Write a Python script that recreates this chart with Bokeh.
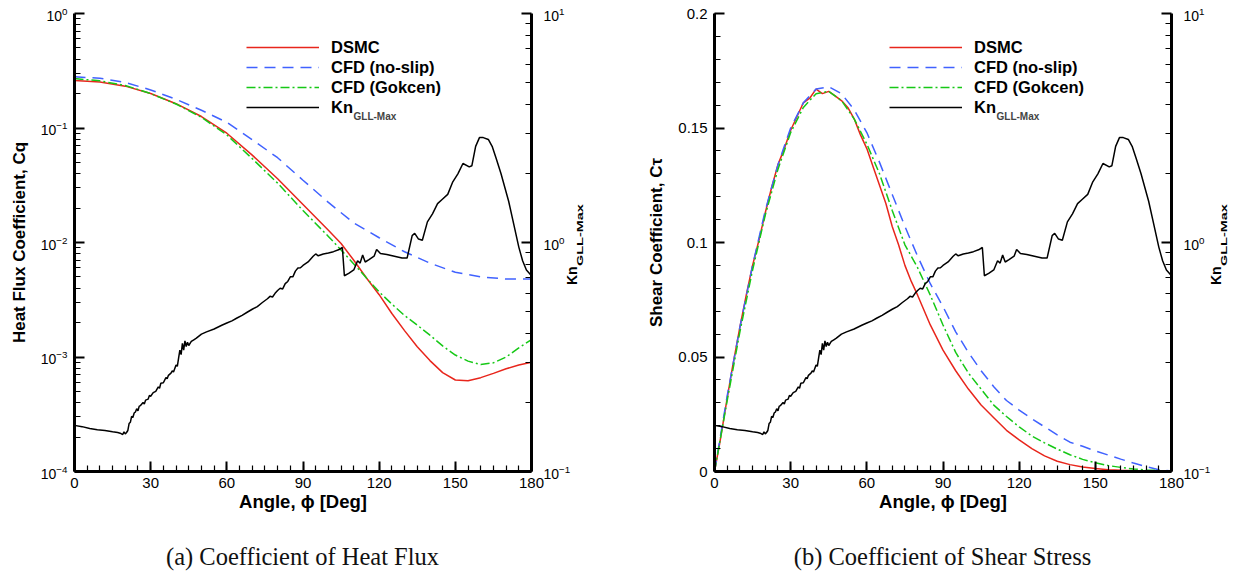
from bokeh.plotting import figure
from bokeh.layouts import row, column
from bokeh.models import (Range1d, LogScale, LogAxis, FixedTicker, NumeralTickFormatter,
                          Legend, LegendItem, Label, Div)
from bokeh.embed import file_html
from bokeh.resources import INLINE

# ---------------- data ----------------
# Heat flux coefficient (left panel)
hf_dsmc_angle = [0, 10, 20, 30, 40, 50, 60, 70, 80, 90, 100, 105, 110, 115, 120, 125, 130,
                 135, 140, 145, 150, 155, 160, 165, 170, 175, 180]
hf_dsmc = [0.26, 0.252, 0.232, 0.2, 0.163, 0.126, 0.09, 0.058, 0.036, 0.0215, 0.0128, 0.0098,
           0.007, 0.0049, 0.0035, 0.0024, 0.0017, 0.00123, 0.00093, 0.00073, 0.00063, 0.00062,
           0.00066, 0.00072, 0.00079, 0.00085, 0.0009]
hf_gokcen_angle = hf_dsmc_angle
hf_gokcen = [0.27, 0.258, 0.235, 0.2, 0.162, 0.124, 0.087, 0.054, 0.033, 0.019, 0.0113, 0.0086,
             0.0065, 0.0049, 0.0037, 0.0029, 0.0023, 0.0019, 0.00155, 0.00125, 0.00104, 0.00092,
             0.00086, 0.00089, 0.001, 0.0012, 0.00142]
hf_noslip_angle = [0, 10, 20, 30, 40, 50, 60, 70, 80, 90, 100, 110, 120, 130, 140, 150, 160, 170, 180]
hf_noslip = [0.28, 0.272, 0.25, 0.215, 0.178, 0.143, 0.112, 0.079, 0.055, 0.035, 0.0224, 0.0148,
             0.011, 0.0083, 0.0066, 0.0055, 0.005, 0.0048, 0.0048]

# Shear coefficient (right panel)
sh_dsmc_angle = [0, 2, 5, 7, 10, 12.5, 15, 17.5, 20, 22.5, 25, 27.5, 30, 32.5, 35, 37.5, 40, 42.5,
                 45, 47.5, 50, 52.5, 55, 57.5, 60, 62.5, 65, 67.5, 70, 72.5, 75, 77.5, 80, 85, 90,
                 95, 100, 105, 110, 115, 120, 125, 130, 135, 140, 145, 150, 155, 160, 165, 170, 180]
sh_dsmc = [0, 0.012, 0.032, 0.045, 0.063, 0.077, 0.090, 0.101, 0.113, 0.124, 0.134, 0.141, 0.149,
           0.155, 0.161, 0.163, 0.167, 0.165, 0.166, 0.164, 0.162, 0.159, 0.154, 0.147, 0.141,
           0.133, 0.125, 0.117, 0.107, 0.099, 0.090, 0.083, 0.077, 0.064, 0.053, 0.044, 0.036,
           0.029, 0.0235, 0.018, 0.0138, 0.010, 0.0068, 0.0045, 0.003, 0.002, 0.0013, 0.0008,
           0.0005, 0.0003, 0.0002, 0.0001]
sh_cfd_angle = [0, 5, 10, 15, 20, 25, 30, 35, 40, 45, 50, 55, 60, 65, 70, 75, 80, 85, 90, 95, 100,
                105, 110, 115, 120, 125, 130, 135, 140, 145, 150, 155, 160, 165, 170, 175, 180]
sh_noslip = [0, 0.033, 0.063, 0.090, 0.114, 0.134, 0.150, 0.161, 0.167, 0.168, 0.165, 0.158, 0.148,
             0.135, 0.121, 0.107, 0.094, 0.082, 0.072, 0.061, 0.052, 0.044, 0.037, 0.031, 0.0268,
             0.023, 0.0195, 0.016, 0.0128, 0.011, 0.009, 0.0072, 0.0054, 0.0037, 0.0021, 0.0008,
             0.0002]
sh_gokcen = [0, 0.031, 0.061, 0.088, 0.112, 0.132, 0.148, 0.159, 0.165, 0.166, 0.162, 0.154, 0.143,
             0.130, 0.114, 0.099, 0.089, 0.077, 0.064, 0.052, 0.043, 0.036, 0.029, 0.024, 0.0195,
             0.0155, 0.0125, 0.0098, 0.0073, 0.0053, 0.0038, 0.0026, 0.0018, 0.0011, 0.0007,
             0.0004, 0.0003]

# Maximum gradient-length local Knudsen number (both panels, right axis)
kn_angle = [0, 3, 6, 9, 12, 15, 17, 18, 19, 19.5, 20, 20.5, 21, 21.5, 22, 22.5, 23, 23.5, 24, 24.5,
            25, 25.5, 26, 27, 27.5, 28, 29, 29.5, 30, 31, 32, 33, 33.5, 34, 35, 36, 36.5, 37, 38,
            38.5, 39, 40, 40.5, 41, 41.5, 42, 42.5, 43, 43.5, 44, 44.5, 45, 46, 47, 48, 50, 52, 55,
            58, 60, 62, 64, 66, 68, 70, 72, 74, 76, 77, 78, 79, 80, 81, 82, 83, 84, 85, 86, 87, 88,
            89, 90, 92, 94, 95, 96, 98, 100, 102, 104, 105.5, 106.3, 108, 110, 111.5, 112.5, 113.5,
            114.5, 116, 118, 119, 120.5, 123, 126, 129, 131, 133, 134, 135.5, 137, 139, 141, 143,
            145, 147, 149, 151, 153, 155.5, 156.5, 158, 159.5, 161, 163, 164.5, 166, 168, 171, 173,
            175, 176.5, 178, 180]
kn_max = [0.159, 0.157, 0.154, 0.152, 0.151, 0.149, 0.148, 0.147, 0.145, 0.149, 0.146, 0.148, 0.151,
          0.162, 0.164, 0.174, 0.172, 0.180, 0.182, 0.188, 0.184, 0.193, 0.194, 0.200, 0.197, 0.205,
          0.207, 0.215, 0.213, 0.221, 0.224, 0.234, 0.231, 0.243, 0.244, 0.257, 0.254, 0.263, 0.269,
          0.275, 0.272, 0.292, 0.288, 0.313, 0.339, 0.324, 0.363, 0.339, 0.372, 0.351, 0.367, 0.355,
          0.370, 0.376, 0.382, 0.398, 0.407, 0.419, 0.435, 0.445, 0.455, 0.468, 0.481, 0.496, 0.511,
          0.525, 0.547, 0.568, 0.582, 0.578, 0.600, 0.617, 0.631, 0.627, 0.661, 0.676, 0.708, 0.708,
          0.750, 0.773, 0.776, 0.794, 0.822, 0.871, 0.891, 0.875, 0.891, 0.900, 0.912, 0.929, 0.951,
          0.716, 0.733, 0.759, 0.832, 0.813, 0.881, 0.822, 0.841, 0.871, 0.933, 0.895, 0.887, 0.871,
          0.855, 0.855, 1.072, 1.097, 1.035, 1.023, 1.230, 1.334, 1.479, 1.549, 1.622, 1.841, 1.995,
          2.213, 2.138, 2.163, 2.630, 2.871, 2.871, 2.818, 2.630, 2.344, 1.995, 1.514, 1.202, 0.955,
          0.832, 0.759, 0.716]

series_labels = ["DSMC", "CFD (no-slip)", "CFD (Gokcen)", "Kn"]
kn_subscript = "GLL-Max"
x_label = "Angle, \u03d5 [Deg]"
y_label_left = ["Heat Flux Coefficient, Cq", "Shear Coefficient, C\u03c4"]
captions = ["(a) Coefficient of Heat Flux", "(b) Coefficient of Shear Stress"]

# ---------------- styling ----------------
FONT = "Liberation Sans"
RED = "#e8261c"
BLUE = "#4062ff"
GREEN = "#16c816"
BLACK = "#000000"
LW = 1.5
FIG_H = 523
TOTAL_H = 574


def style_axis(ax, size="15px"):
    ax.axis_line_width = 3
    ax.axis_line_color = "black"
    ax.major_tick_in = 10
    ax.major_tick_out = 0
    ax.minor_tick_in = 6
    ax.minor_tick_out = 0
    ax.major_tick_line_width = 2
    ax.minor_tick_line_width = 1.2
    ax.major_label_text_font = FONT
    ax.major_label_text_font_size = size
    ax.major_label_text_color = "black"
    ax.axis_label_text_font = FONT
    ax.axis_label_text_font_style = "bold"
    ax.axis_label_text_font_size = "17px"
    ax.axis_label_text_color = "black"


def make_panel(width, left, right, y_type, y_range, y_ticks, y_minor, ylab, leg_x,
               cq_x, cq_y, curves):
    p = figure(width=width, height=FIG_H, x_range=Range1d(0, 180), y_range=y_range,
               y_axis_type=y_type, output_backend="svg", toolbar_location=None,
               min_border_left=left, min_border_right=right, min_border_top=13,
               min_border_bottom=52)
    p.extra_y_ranges = {"kn": Range1d(0.1, 10)}
    p.extra_y_scales = {"kn": LogScale()}
    p.outline_line_color = None
    p.xgrid.visible = False
    p.ygrid.visible = False
    p.background_fill_color = "white"
    p.border_fill_color = "white"

    xa = p.xaxis[0]
    style_axis(xa)
    xa.ticker = FixedTicker(ticks=[0, 30, 60, 90, 120, 150, 180],
                            minor_ticks=list(range(0, 181, 5)))
    xa.axis_label = x_label
    xa.axis_label_text_font_size = "18.5px"
    xa.major_label_standoff = 6
    xa.axis_label_standoff = 0

    ya = p.yaxis[0]
    style_axis(ya, "14px" if y_type == "log" else "15px")
    ya.ticker = FixedTicker(ticks=y_ticks, minor_ticks=y_minor)
    ya.axis_label = ylab
    ya.major_label_standoff = 7
    ya.axis_label_standoff = 9
    if y_type == "linear":
        ya.formatter = NumeralTickFormatter(format="0.[00]")

    ra = LogAxis(y_range_name="kn",
                 ticker=FixedTicker(ticks=[0.1, 1, 10],
                                    minor_ticks=[k * 10.0 ** e for e in (-1, 0)
                                                 for k in range(2, 10)]))
    style_axis(ra, "14px")
    ra.major_label_standoff = 12
    p.add_layout(ra, "right")

    (ang_d, val_d), (ang_n, val_n), (ang_g, val_g) = curves
    r1 = p.line(ang_d, val_d, line_color=RED, line_width=LW)
    r2 = p.line(ang_n, val_n, line_color=BLUE, line_width=LW, line_dash="11 7")
    r3 = p.line(ang_g, val_g, line_color=GREEN, line_width=LW, line_dash="9 3 2 3")
    r4 = p.line(kn_angle, kn_max, line_color=BLACK, line_width=LW, y_range_name="kn")

    legend = Legend(items=[LegendItem(label=series_labels[0], renderers=[r1]),
                           LegendItem(label=series_labels[1], renderers=[r2]),
                           LegendItem(label=series_labels[2], renderers=[r3]),
                           LegendItem(label=series_labels[3], renderers=[r4])],
                    location=(leg_x, 354), padding=0, margin=0, spacing=0,
                    glyph_width=73, glyph_height=20, label_height=20, label_standoff=12,
                    border_line_color=None, background_fill_alpha=0,
                    label_text_font=FONT, label_text_font_style="bold",
                    label_text_font_size="16.5px", label_text_color="black")
    p.add_layout(legend)

    # subscript of the legend entry
    p.add_layout(Label(x=cq_x, y=cq_y, x_units="canvas", y_units="canvas", text=kn_subscript,
                       text_font=FONT, text_font_style="bold", text_font_size="10px",
                       text_baseline="alphabetic", text_align="left"))
    return p


def kn_title(width, left):
    # right-axis title "Kn" with subscript, written upwards
    html = (
        '<div style="position:relative;width:%dpx;height:%dpx;overflow:visible;">'
        '<div style="position:absolute;left:%dpx;top:285px;transform-origin:0 0;'
        'transform:rotate(-90deg);white-space:nowrap;font-family:\'Liberation Sans\';'
        'font-weight:bold;font-size:14px;line-height:14px;color:#000;">%s'
        '<span style="display:inline-block;font-size:8.5px;line-height:8.5px;'
        'vertical-align:-6px;transform:scaleX(1.7);transform-origin:0 0;">%s</span>'
        '</div></div>' % (width, FIG_H, left, series_labels[3], kn_subscript))
    return Div(text=html, width=width, height=FIG_H, margin=0)


def caption_div(text, width, offset, inner_w):
    html = ('<div style="margin-left:%dpx;width:%dpx;text-align:center;padding-top:20px;'
            'font-family:\'Liberation Serif\';font-size:24.5px;line-height:28px;color:#111;'
            'white-space:nowrap;">%s</div>' % (offset, inner_w, text))
    return Div(text=html, width=width, height=TOTAL_H - FIG_H, margin=0)


hf_minor = [k * 10.0 ** e for e in range(-4, 0) for k in range(2, 10)]
sh_minor = [i / 100 for i in range(0, 21)]

p1 = make_panel(573, 74, 42, "log", Range1d(1e-4, 1), [1e-4, 1e-3, 1e-2, 1e-1, 1], hf_minor,
                y_label_left[0], 172, 353, 116,
                [(hf_dsmc_angle, hf_dsmc), (hf_noslip_angle, hf_noslip),
                 (hf_gokcen_angle, hf_gokcen)])
p2 = make_panel(597, 98, 42, "linear", Range1d(0, 0.2), [0, 0.05, 0.1, 0.15, 0.2], sh_minor,
                y_label_left[1], 175, 380, 116,
                [(sh_dsmc_angle, sh_dsmc), (sh_cfd_angle, sh_noslip), (sh_cfd_angle, sh_gokcen)])

top = row(p1, kn_title(43, -8), p2, kn_title(20, -4))
bottom = row(caption_div(captions[0], 616, 0, 605), caption_div(captions[1], 617, 36, 581))
layout = column(top, bottom)
open("out.html", "w").write(file_html(layout, INLINE))
